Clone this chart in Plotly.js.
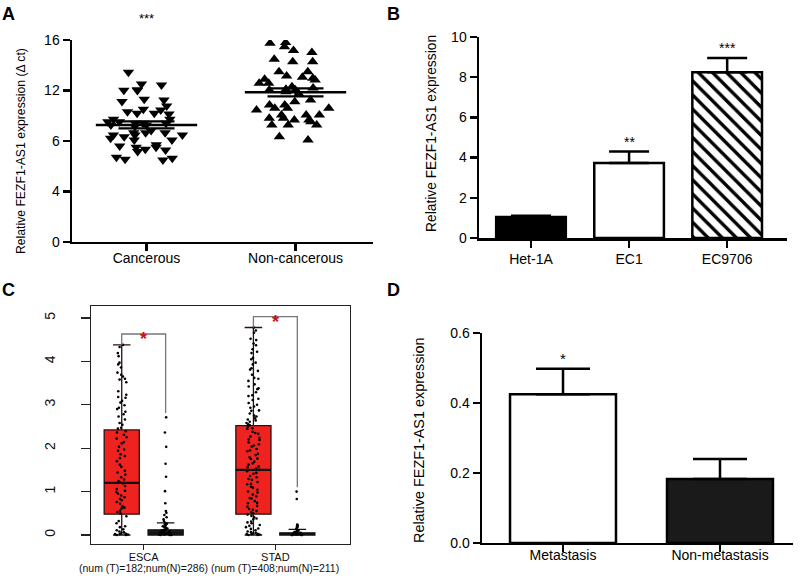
<!DOCTYPE html>
<html><head><meta charset="utf-8">
<script src="https://cdn.plot.ly/plotly-3.0.1.min.js"></script>
<style>html,body{margin:0;padding:0;background:#fff}#chart{width:800px;height:576px}</style>
</head><body><div id="chart"></div>
<script>
// ---------- Panel A ----------
const catA = ['Cancerous', 'Non-cancerous'];
const cancerous = [13.45, 12.44, 11.99, 12.02, 12.05, 12.51, 11.25, 11.12, 11.30, 10.77, 10.32, 10.19, 10.46, 10.19, 10.51,
  9.72, 10.14, 9.72, 9.53, 9.40, 9.27, 9.40, 9.27, 9.53, 9.14, 9.40, 8.82, 8.34, 8.66, 8.21, 8.48, 8.48, 8.08, 8.48,
  8.08, 8.66, 8.66, 7.50, 7.16, 7.50, 7.34, 7.29, 7.60, 7.70, 6.63, 6.50, 6.55, 6.71];
const noncancerous = [15.79, 15.47, 15.74, 15.0, 15.16, 14.28, 14.28, 14.47, 13.49, 13.49, 13.04, 12.88, 12.83, 12.96,
  13.15, 12.57, 12.57, 12.04, 12.04, 11.9, 11.7, 12.2, 12.1, 12.3, 11.25, 11.11, 10.85, 10.85, 10.59, 10.59, 10.59,
  10.45, 10.06, 10.06, 10.06, 9.80, 9.80, 9.66, 9.66, 9.53, 9.27, 9.27, 9.27, 8.34, 8.08];
const meanA = [9.27, 11.85];
const semA = [0.28, 0.32];
const tickValsA = [0, 4, 8, 12, 16];
const tickTextA = ['0', '4', '6', '12', '16'];

// ---------- Panel B ----------
const catB = ['Het-1A', 'EC1', 'EC9706'];
const valB = [1.05, 3.73, 8.24];
const errB = [0.06, 0.57, 0.72];
const starsB = ['', '**', '***'];

// ---------- Panel C ----------
const groupsC = ['ESCA', 'STAD'];
const countsC = ['(num (T)=182;num(N)=286)', '(num (T)=408;num(N)=211)'];
const q1T = [0.48, 0.48], medT = [1.2, 1.5], q3T = [2.42, 2.52], lowT = [0, 0], upT = [4.38, 4.78];
const q1N = [0, 0], medN = [0.05, 0.02], q3N = [0.12, 0.05], lowN = [0, 0], upN = [0.28, 0.13];
const escaT = [4.38,4.33,4.19,4.12,3.97,3.93,3.86,3.74,3.69,3.65,3.6,3.58,3.52,3.31,3.23,3.18,3.16,3.09,3.05,2.99,2.93,2.9,
  2.84,2.78,2.73,2.66,2.58,2.54,2.47,2.45,2.39,2.36,2.31,2.25,2.22,2.14,2.11,2.03,1.97,1.94,1.86,1.82,1.77,1.7,1.62,1.57,
  1.48,1.44,1.39,1.33,1.28,1.24,1.21,1.19,1.13,1.06,1.02,0.99,0.95,0.91,0.87,0.83,0.8,0.76,0.72,0.66,0.63,0.61,0.56,0.53,
  0.5,0.43,0.32,0.27,0.2,0.18,0.13,0.11,0.08,0.06,0.05,0.03,0.02,0.02,0.01,0.0,0.0];
const escaN = [2.71,2.36,2.03,1.64,1.34,1.01,0.73,0.55,0.51,0.46,0.41,0.36,0.32,0.28,0.26,0.24,0.22,0.2,0.18,0.16,0.15,
  0.13,0.12,0.11,0.1,0.09,0.08,0.07,0.06,0.05,0.05,0.04,0.03,0.03,0.02,0.02,0.01,0.01,0.0,0.0,0.0];
const stadT = [4.78,4.71,4.66,4.52,4.49,4.41,4.37,4.28,4.22,4.19,4.08,4.05,3.97,3.93,3.84,3.81,3.78,3.69,3.62,3.6,3.55,
  3.47,3.42,3.38,3.36,3.29,3.22,3.2,3.14,3.11,3.04,3.0,2.96,2.93,2.87,2.86,2.8,2.75,2.73,2.69,2.66,2.64,2.61,2.58,2.55,
  2.53,2.49,2.46,2.44,2.38,2.35,2.33,2.27,2.24,2.2,2.19,2.13,2.09,2.06,2.04,1.98,1.95,1.93,1.87,1.84,1.79,1.76,1.75,1.69,
  1.65,1.62,1.58,1.56,1.53,1.5,1.47,1.43,1.41,1.36,1.33,1.29,1.27,1.22,1.18,1.17,1.11,1.09,1.04,1.0,0.98,0.93,0.89,0.85,
  0.84,0.78,0.74,0.73,0.67,0.65,0.6,0.58,0.55,0.52,0.5,0.47,0.44,0.41,0.38,0.36,0.31,0.29,0.27,0.23,0.21,0.18,0.15,0.14,
  0.11,0.08,0.07,0.05,0.04,0.03,0.02,0.02,0.01,0.0,0.0];
const stadN = [1.0,0.83,0.24,0.22,0.2,0.18,0.15,0.13,0.11,0.1,0.09,0.08,0.07,0.06,0.05,0.05,0.04,0.04,0.03,0.03,0.02,0.02,
  0.02,0.01,0.01,0.01,0.0,0.0,0.0,0.0];

// ---------- Panel D ----------
const catD = ['Metastasis', 'Non-metastasis'];
const valD = [0.425, 0.183];
const errD = [0.073, 0.057];
const starsD = ['*', ''];

// ================= build =================
const FONT = 'Liberation Sans, Arial, Helvetica, sans-serif';
const traces = [];

// A: scatter points (jittered by plotly's box-points)
[[cancerous, 'triangle-down', 0], [noncancerous, 'triangle-up', 1]].forEach(([vals, sym, i]) => {
  traces.push({type: 'box', y: vals, x0: i, name: catA[i], xaxis: 'x', yaxis: 'y',
    boxpoints: 'all', jitter: 1, pointpos: 0, width: 0.62, whiskerwidth: 0,
    line: {width: 0, color: 'rgba(0,0,0,0)'}, fillcolor: 'rgba(0,0,0,0)',
    marker: {symbol: sym, size: 10, color: '#000', line: {width: 0}}, hoverinfo: 'y', showlegend: false});
});
// A: mean lines
meanA.forEach((m, i) => {
  traces.push({type: 'scatter', mode: 'lines', x: [i - 0.34, i + 0.34], y: [m, m], xaxis: 'x', yaxis: 'y',
    line: {color: '#000', width: 2.5}, showlegend: false, hoverinfo: 'skip'});
});
// A: SEM
traces.push({type: 'scatter', mode: 'markers', x: [0, 1], y: meanA, xaxis: 'x', yaxis: 'y',
  marker: {color: 'rgba(0,0,0,0)', size: 2},
  error_y: {type: 'data', array: semA, visible: true, color: '#000', thickness: 2.2, width: 28},
  showlegend: false, hoverinfo: 'skip'});

// B: bars (one trace per bar so each gets its own fill / hatch)
const fillB = ['#000', '#fff', '#fff'];
const hatchB = ['', '', '\\'];
catB.forEach((c, i) => {
  const mk = {color: fillB[i], line: {color: '#000', width: 2.5}};
  if (hatchB[i]) mk.pattern = {shape: hatchB[i], fgcolor: '#000', bgcolor: '#fff', fgopacity: 1, size: 10, solidity: 0.34, fillmode: 'overlay'};
  traces.push({type: 'bar', x: [i], y: [valB[i]], width: 0.71, xaxis: 'x2', yaxis: 'y2', name: c, marker: mk,
    error_y: {type: 'data', symmetric: false, array: [errB[i]], arrayminus: [0], color: '#000', thickness: 2.5, width: 20},
    showlegend: false});
});

// C: boxes (precomputed stats)
const posT = [0, 3], posN = [1, 4];
traces.push({type: 'box', x: posT, q1: q1T, median: medT, q3: q3T, lowerfence: lowT, upperfence: upT,
  xaxis: 'x3', yaxis: 'y3', width: 0.8, whiskerwidth: 0.5, boxpoints: false,
  fillcolor: '#ee2320', line: {color: '#2a1010', width: 1.3}, showlegend: false});
traces.push({type: 'box', x: posN, q1: q1N, median: medN, q3: q3N, lowerfence: lowN, upperfence: upN,
  xaxis: 'x3', yaxis: 'y3', width: 0.8, whiskerwidth: 0.5, boxpoints: false,
  fillcolor: '#1e1e1e', line: {color: '#111', width: 1.3}, showlegend: false});
// C: jittered points
[[escaT, posT[0]], [escaN, posN[0]], [stadT, posT[1]], [stadN, posN[1]]].forEach(([vals, p]) => {
  traces.push({type: 'box', y: vals, x0: p, xaxis: 'x3', yaxis: 'y3', boxpoints: 'all', jitter: 0.45, pointpos: 0,
    width: 0.8, whiskerwidth: 0, line: {width: 0, color: 'rgba(0,0,0,0)'}, fillcolor: 'rgba(0,0,0,0)',
    marker: {size: 2.6, color: '#000'}, showlegend: false, hoverinfo: 'y'});
});
// C: thick median lines for the tumour boxes
medT.forEach((m, g) => {
  traces.push({type: 'scatter', mode: 'lines', x: [posT[g] - 0.4, posT[g] + 0.4], y: [m, m], xaxis: 'x3', yaxis: 'y3',
    line: {color: '#111', width: 2.4}, showlegend: false, hoverinfo: 'skip'});
});

// D: bars
traces.push({type: 'bar', x: [0, 1], y: valD, width: 0.675, xaxis: 'x4', yaxis: 'y4',
  marker: {color: ['#fff', '#1a1a1a'], line: {color: '#000', width: 2.5}},
  error_y: {type: 'data', symmetric: false, array: errD, arrayminus: [0, 0], color: '#000', thickness: 2.5, width: 27},
  showlegend: false});

// ---------- axes ----------
const TF = {family: FONT, size: 14, color: '#000'};
const prismX = (domain, range, tv, tt, anchor, so) => ({domain, range, tickvals: tv, ticktext: tt, anchor,
  showline: true, linewidth: 2.5, linecolor: '#000', ticks: 'outside', ticklen: 7, tickwidth: 2.5, tickcolor: '#000',
  showgrid: false, zeroline: false, tickfont: TF, ticklabelstandoff: so, fixedrange: true});
const prismY = (domain, range, tv, tt, anchor) => ({domain, range, tickvals: tv, ticktext: tt, showline: true,
  linewidth: 2.5, linecolor: '#000', ticks: 'outside', ticklen: 7, tickwidth: 2.5, tickcolor: '#000', showgrid: false,
  zeroline: false, tickfont: TF, anchor, fixedrange: true});

const layout = {
  width: 800, height: 576, margin: {l: 0, r: 0, t: 0, b: 0}, paper_bgcolor: '#fff', plot_bgcolor: 'rgba(0,0,0,0)',
  showlegend: false, boxmode: 'overlay', barmode: 'overlay',
  font: {family: FONT, color: '#000'},
  xaxis: prismX([0.09, 0.46625], [-0.5, 1.52], [0, 1], catA, 'y', -5),
  yaxis: prismY([0.5799, 0.9306], [0, 16], tickValsA, tickTextA, 'x'),
  xaxis2: prismX([0.59875, 0.98375], [-0.53, 2.61], [0, 1, 2], catB, 'y2', 0),
  yaxis2: prismY([0.5868, 0.9358], [0, 10], [0, 2, 4, 6, 8, 10], ['0', '2', '4', '6', '8', '10'], 'x2'),
  xaxis3: {domain: [0.11375, 0.4375], range: [-0.7, 5.2], anchor: 'y3', tickvals: [0.5, 3.5], ticktext: groupsC,
    showline: true, mirror: true, linecolor: '#222', linewidth: 1.3, ticks: 'outside', ticklen: 5, tickwidth: 1.2,
    tickcolor: '#222', showgrid: false, zeroline: false, ticklabelstandoff: -2,
    tickfont: {family: FONT, size: 11, color: '#111'}, fixedrange: true},
  yaxis3: {domain: [0.0556, 0.4688], range: [-0.207, 5.276], anchor: 'x3', tickvals: [0, 1, 2, 3, 4, 5],
    showline: true, mirror: true, linecolor: '#222', linewidth: 1.3, ticks: 'outside', ticklen: 9, tickwidth: 1.2,
    tickcolor: '#222', showgrid: false, zeroline: false, tickangle: -90, ticklabelstandoff: 20,
    tickfont: {family: FONT, size: 14, color: '#111'}, fixedrange: true},
  xaxis4: prismX([0.6025, 0.99125], [-0.516, 1.465], [0, 1], catD, 'y4', -9),
  yaxis4: prismY([0.0573, 0.4219], [0, 0.6], [0, 0.2, 0.4, 0.6], ['0.0', '0.2', '0.4', '0.6'], 'x4'),
  annotations: [], shapes: []
};

const ann = layout.annotations;
// panel letters
[['A', 8.5, 14], ['B', 393, 14], ['C', 8.5, 290], ['D', 393, 290]].forEach(([t, px, py]) => {
  ann.push({text: '<b>' + t + '</b>', xref: 'paper', yref: 'paper', x: px / 800, y: 1 - py / 576,
    xanchor: 'center', yanchor: 'middle', showarrow: false, font: {family: FONT, size: 18, color: '#000'}});
});
// y titles
[['Relative FEZF1-AS1 expression (Δ ct)', 21, 151, 12.2],
 ['Relative FEZF1-AS1 expression', 431, 133, 13.8],
 ['Relative FEZF1-AS1 expression', 419, 440, 14.4]].forEach(([t, px, py, fs]) => {
  ann.push({text: t, xref: 'paper', yref: 'paper', x: px / 800, y: 1 - py / 576, textangle: -90,
    xanchor: 'center', yanchor: 'middle', showarrow: false, font: {family: FONT, size: fs, color: '#000'}});
});
// C second line of group labels
countsC.forEach((t, g) => {
  ann.push({text: t, xref: 'x3', yref: 'paper', x: (posT[g] + posN[g]) / 2, y: 1 - 567.5 / 576,
    xanchor: 'center', yanchor: 'middle', showarrow: false, font: {family: FONT, size: 10.5, color: '#111'}});
});
// A stars
ann.push({text: '***', xref: 'x', yref: 'y domain', x: 0, y: 1.105, xanchor: 'center', yanchor: 'middle',
  showarrow: false, font: {family: FONT, size: 13, color: '#000'}});
// B stars
starsB.forEach((s, i) => { if (s) ann.push({text: s, xref: 'x2', yref: 'y2', x: i, y: valB[i] + errB[i],
  xanchor: 'center', yanchor: 'bottom', showarrow: false, font: {family: FONT, size: 14, color: '#000'}}); });
// D stars
starsD.forEach((s, i) => { if (s) ann.push({text: s, xref: 'x4', yref: 'y4', x: i, y: valD[i] + errD[i],
  xanchor: 'center', yanchor: 'bottom', showarrow: false, font: {family: FONT, size: 15, color: '#000'}}); });
// C brackets
[[upT[0], escaN, 0], [upT[1], stadN, 1]].forEach(([top, nv, g]) => {
  const yTop = top + 0.25, yRight = Math.max(...nv) + 0.1, xl = posT[g], xr = posN[g];
  layout.shapes.push({type: 'path', xref: 'x3', yref: 'y3',
    path: `M ${xl} ${top} L ${xl} ${yTop} L ${xr} ${yTop} L ${xr} ${yRight}`,
    line: {color: '#777', width: 1.3}});
  ann.push({text: '<b>*</b>', xref: 'x3', yref: 'y3', x: (xl + xr) / 2, y: yTop, xanchor: 'center', yanchor: 'middle',
    yshift: -5, showarrow: false, font: {family: FONT, size: 18, color: '#cc1111'}});
});

Plotly.newPlot('chart', traces, layout, {staticPlot: true, displayModeBar: false});
</script></body></html>
